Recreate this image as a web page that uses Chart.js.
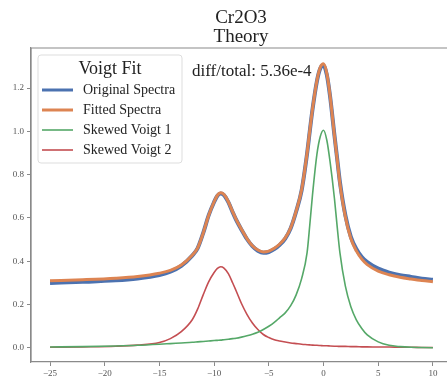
<!DOCTYPE html>
<html>
<head>
<meta charset="utf-8">
<script src="https://cdn.jsdelivr.net/npm/chart.js@4"></script>
<style>
  html, body { margin: 0; padding: 0; background: #fff; overflow: hidden; }
  #wrap { width: 447px; height: 381px; position: relative; }
</style>
</head>
<body>
<div id="wrap"><canvas id="chart"></canvas></div>
<script>
// --- DATA ---
const energies = [-25, -22, -19, -17, -15, -14, -13, -12, -11.5, -11, -10.5, -10, -9.7, -9.4, -9.1, -8.7, -8.3, -8, -7.5, -7,
    -6.5, -6, -5.5, -5, -4.5, -4, -3.5, -3, -2.5, -2, -1.5, -1.25, -1, -0.6, -0.3, 0, 0.3, 0.6, 1, 1.25,
    1.5, 2, 2.5, 3, 3.5, 4, 5, 6, 7, 8, 9, 10];
const originalSpectra = [0.300, 0.305, 0.312, 0.321, 0.337, 0.352, 0.379, 0.426, 0.461, 0.530,
    0.612, 0.674, 0.703, 0.713, 0.706, 0.673, 0.626, 0.593, 0.546, 0.503,
    0.470, 0.449, 0.439, 0.443, 0.456, 0.476, 0.505, 0.553, 0.630, 0.728,
    0.898, 1.003, 1.103, 1.232, 1.290, 1.305, 1.262, 1.162, 0.982, 0.874,
    0.766, 0.612, 0.513, 0.457, 0.420, 0.396, 0.366, 0.348, 0.336, 0.328,
    0.320, 0.315];
const fittedSpectra = [0.310, 0.315, 0.322, 0.330, 0.345, 0.358, 0.383, 0.428, 0.462, 0.530,
    0.612, 0.675, 0.705, 0.716, 0.708, 0.675, 0.628, 0.595, 0.548, 0.505,
    0.472, 0.452, 0.443, 0.447, 0.460, 0.480, 0.508, 0.555, 0.632, 0.730,
    0.900, 1.005, 1.105, 1.235, 1.295, 1.312, 1.268, 1.165, 0.980, 0.870,
    0.760, 0.605, 0.505, 0.448, 0.410, 0.385, 0.355, 0.338, 0.326, 0.318,
    0.311, 0.306];
const skewedVoigt1 = [0.004, 0.006, 0.009, 0.012, 0.017, 0.020, 0.023, 0.026, 0.028, 0.030,
    0.032, 0.034, 0.035, 0.036, 0.038, 0.040, 0.043, 0.045, 0.050, 0.056,
    0.063, 0.072, 0.085, 0.100, 0.118, 0.140, 0.162, 0.195, 0.245, 0.320,
    0.440, 0.570, 0.710, 0.895, 0.975, 1.005, 0.960, 0.860, 0.690, 0.560,
    0.440, 0.285, 0.190, 0.130, 0.090, 0.060, 0.028, 0.012, 0.006, 0.003,
    0.002, 0.001];
const skewedVoigt2 = [0.003, 0.005, 0.008, 0.013, 0.025, 0.043, 0.075, 0.130, 0.180, 0.245,
    0.305, 0.348, 0.367, 0.375, 0.369, 0.343, 0.300, 0.265, 0.205, 0.155,
    0.115, 0.085, 0.062, 0.048, 0.038, 0.032, 0.027, 0.023, 0.020, 0.017,
    0.015, 0.014, 0.013, 0.012, 0.011, 0.010, 0.010, 0.009, 0.008, 0.0075,
    0.007, 0.007, 0.006, 0.006, 0.005, 0.005, 0.004, 0.004, 0.003, 0.003,
    0.002, 0.002];
const xTicks = [-25, -20, -15, -10, -5, 0, 5, 10];
const yTicks = [0.0, 0.2, 0.4, 0.6, 0.8, 1.0, 1.2];

const seriesNames = ["Original Spectra", "Fitted Spectra", "Skewed Voigt 1", "Skewed Voigt 2"];
const seriesColors = ["#4C72B0", "#DD8452", "#55A868", "#C44E52"];
const seriesWidths = [4, 3, 1.6, 1.6];

const SERIF = "'Liberation Serif', 'DejaVu Serif', serif";

function toPoints(ys) {
    return energies.map((x, i) => ({ x: x, y: ys[i] }));
}

// --- TITLE, FRAME, LEGEND, ANNOTATION ---
const decorPlugin = {
    id: 'decor',
    afterDraw(chart) {
        const ctx = chart.ctx;
        const a = chart.chartArea;
        ctx.save();

        // frame (left + top; right edge is cut off in the picture)
        ctx.strokeStyle = '#8a8a8a';
        ctx.lineWidth = 1.2;
        ctx.beginPath();
        ctx.moveTo(a.left, a.bottom);
        ctx.lineTo(a.left, a.top);
        ctx.lineTo(a.right, a.top);
        ctx.stroke();

        // title
        ctx.fillStyle = '#222';
        ctx.textAlign = 'center';
        ctx.textBaseline = 'middle';
        ctx.font = `19px ${SERIF}`;
        ctx.fillText('Cr2O3', 241, 18);
        ctx.fillText('Theory', 241, 37);

        // diff text
        ctx.textAlign = 'left';
        ctx.font = `17px ${SERIF}`;
        ctx.fillText('diff/total: 5.36e-4', 192, 72);

        // legend box
        const lx = 38, ly = 55, lw = 144, lh = 108;
        ctx.fillStyle = 'rgba(255,255,255,0.85)';
        ctx.strokeStyle = '#dddddd';
        ctx.lineWidth = 1;
        ctx.beginPath();
        ctx.roundRect(lx, ly, lw, lh, 3);
        ctx.fill();
        ctx.stroke();

        ctx.fillStyle = '#222';
        ctx.textAlign = 'center';
        ctx.font = `18px ${SERIF}`;
        ctx.fillText('Voigt Fit', 110, 69);

        ctx.textAlign = 'left';
        ctx.font = `14px ${SERIF}`;
        seriesNames.forEach((name, i) => {
            const y = 90 + i * 20;
            ctx.strokeStyle = seriesColors[i];
            ctx.lineWidth = i < 2 ? 3 : 1.6;
            ctx.beginPath();
            ctx.moveTo(42, y);
            ctx.lineTo(73, y);
            ctx.stroke();
            ctx.fillStyle = '#222';
            ctx.fillText(name, 83, y);
        });

        ctx.restore();
    }
};

// dataset index 0 is drawn on top, so the fitted curve goes first
new Chart(document.getElementById('chart'), {
    type: 'line',
    data: {
        datasets: [
            { data: toPoints(fittedSpectra), borderColor: seriesColors[1], borderWidth: seriesWidths[1] },
            { data: toPoints(originalSpectra), borderColor: seriesColors[0], borderWidth: seriesWidths[0] },
            { data: toPoints(skewedVoigt1), borderColor: seriesColors[2], borderWidth: seriesWidths[2] },
            { data: toPoints(skewedVoigt2), borderColor: seriesColors[3], borderWidth: seriesWidths[3] }
        ].map(d => Object.assign(d, {
            pointRadius: 0,
            fill: false,
            cubicInterpolationMode: 'monotone'
        }))
    },
    options: {
        responsive: true,
        maintainAspectRatio: false,
        animation: false,
        layout: { padding: { top: 48, right: 0, left: 0, bottom: 0 } },
        plugins: {
            legend: { display: false },
            title: { display: false },
            tooltip: { enabled: false }
        },
        scales: {
            x: {
                type: 'linear',
                min: -26.74,
                max: 11.29,
                afterBuildTicks: axis => { axis.ticks = xTicks.map(v => ({ value: v })); },
                afterFit: axis => { axis.height = 19; },
                grid: { drawOnChartArea: false, drawTicks: true, tickLength: 4, color: '#8a8a8a' },
                border: { color: '#8a8a8a', width: 1.2 },
                ticks: {
                    color: '#555',
                    padding: 2,
                    maxRotation: 0,
                    font: { family: SERIF, size: 9 },
                    callback: v => (v < 0 ? '\u2212' + Math.abs(v) : String(v))
                }
            },
            y: {
                min: -0.065,
                max: 1.385,
                afterBuildTicks: axis => { axis.ticks = yTicks.map(v => ({ value: v })); },
                afterFit: axis => { axis.width = 31; },
                grid: { drawOnChartArea: false, drawTicks: true, tickLength: 4, color: '#8a8a8a' },
                border: { color: '#8a8a8a', width: 1.2 },
                ticks: {
                    color: '#555',
                    padding: 3,
                    font: { family: SERIF, size: 9 },
                    callback: v => v.toFixed(1)
                }
            }
        }
    },
    plugins: [decorPlugin]
});
</script>
</body>
</html>
